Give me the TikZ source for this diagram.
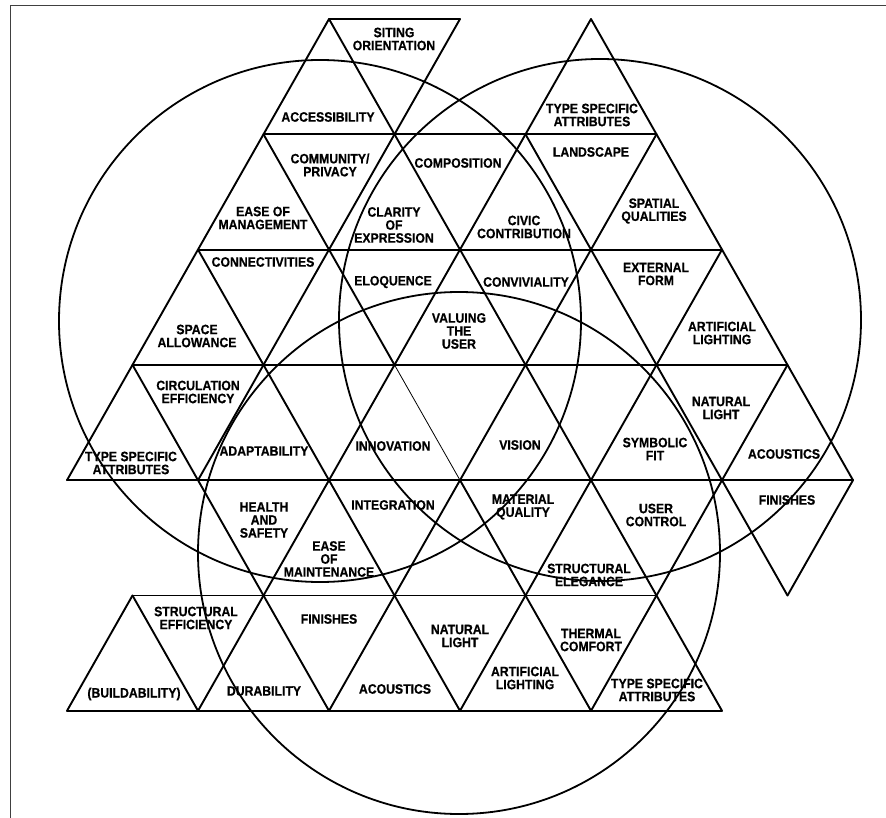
\documentclass[tikz,border=0pt]{standalone}
\usepackage{fontspec}
\setmainfont{Liberation Sans}[FakeStretch=0.9, BoldFeatures={FakeBold=0.6}]
\begin{document}
\begin{tikzpicture}[x=1pt,y=-1pt,
  grid/.style={line width=1.9pt, line cap=round},
  faint/.style={line width=0.8pt, line cap=round},
  ring/.style={line width=1.8pt},
  frame/.style={line width=1pt, draw=black!75},
  lbl/.style={font=\bfseries\fontsize{13.6}{13}\selectfont, align=center, inner sep=0pt}]
\useasboundingbox (0,0) rectangle (886,818);
\draw[frame] (886,6) -- (10,6) -- (10,818);

% lattice points: column i (half sides), row j
\foreach \i in {0,...,12}{
  \foreach \j in {0,...,6}{
    \coordinate (p\i-\j) at ({67+65.5*\i},{19+115.3*\j});
  }
}

% horizontal lines
\foreach \j/\a/\b in {0/4/6,1/3/9,2/2/10,3/1/11,4/0/12,5/1/9,6/0/10}
  \draw[grid] (p\a-\j) -- (p\b-\j);

% rising diagonals
\draw[grid] (p4-0) -- (p0-4);
\draw[grid] (p6-0) -- (p2-4);
\draw[grid] (p1-5) -- (p0-6);
\draw[grid] (p8-0) -- (p2-6);
\draw[grid] (p9-1) -- (p4-6);
\draw[grid] (p10-2) -- (p6-6);
\draw[grid] (p11-3) -- (p8-6);
\draw[grid] (p12-4) -- (p11-5);

% falling diagonals
\draw[grid] (p8-0) -- (p12-4);
\draw[grid] (p7-1) -- (p11-5);
\draw[grid] (p4-0) -- (p10-6);
\draw[grid] (p3-1) -- (p5-3);
\draw[faint] (p5-3) -- (p6-4);
\draw[grid] (p6-4) -- (p8-6);
\draw[grid] (p2-2) -- (p6-6);
\draw[grid] (p1-3) -- (p4-6);
\draw[grid] (p1-5) -- (p2-6);

% the three circles
\coordinate (cA) at (320,321);
\coordinate (cB) at (600,320);
\coordinate (cC) at (459,553);
\draw[ring] (cA) circle[radius=261];
\draw[ring] (cB) circle[radius=261];
\draw[ring] (cC) circle[radius=261];

% labels
\node[lbl] (siting) at (394,39) {SITING\\ORIENTATION};
\node[lbl] (access) at (328,117) {ACCESSIBILITY};
\node[lbl] (tsa1) at (592,115) {TYPE SPECIFIC\\ATTRIBUTES};
\node[lbl] (commun) at (330,165) {COMMUNITY/\\PRIVACY};
\node[lbl] (easemgmt) at (263,218) {EASE OF\\MANAGEMENT};
\node[lbl] (clarity) at (394,225) {CLARITY\\OF\\EXPRESSION};
\node[lbl] (compos) at (458,163) {COMPOSITION};
\node[lbl] (civic) at (524,227) {CIVIC\\CONTRIBUTION};
\node[lbl] (landsc) at (591,152) {LANDSCAPE};
\node[lbl] (spatial) at (654,211) {SPATIAL\\QUALITIES};
\node[lbl] (connect) at (263,262) {CONNECTIVITIES};
\node[lbl] (space) at (197,336) {SPACE\\ALLOWANCE};
\node[lbl] (eloq) at (393,282) {ELOQUENCE};
\node[lbl] (valuing) at (459,331) {VALUING\\THE\\USER};
\node[lbl] (conviv) at (526,282) {CONVIVIALITY};
\node[lbl] (extform) at (656,274) {EXTERNAL\\FORM};
\node[lbl] (artl1) at (722,333) {ARTIFICIAL\\LIGHTING};
\node[lbl] (circ) at (198,392) {CIRCULATION\\EFFICIENCY};
\node[lbl] (tsa2) at (131,463) {TYPE SPECIFIC\\ATTRIBUTES};
\node[lbl] (adapt) at (264,451) {ADAPTABILITY};
\node[lbl] (innov) at (393,446) {INNOVATION};
\node[lbl] (vision) at (520,445) {VISION};
\node[lbl] (symb) at (655,449) {SYMBOLIC\\FIT};
\node[lbl] (natl1) at (721,408) {NATURAL\\LIGHT};
\node[lbl] (acou1) at (784,454) {ACOUSTICS};
\node[lbl] (health) at (264,520) {HEALTH\\AND\\SAFETY};
\node[lbl] (integ) at (393,505) {INTEGRATION};
\node[lbl] (easemt) at (329,559) {EASE\\OF\\MAINTENANCE};
\node[lbl] (matq) at (523,507) {MATERIAL\\QUALITY};
\node[lbl] (userc) at (656,515) {USER\\CONTROL};
\node[lbl] (fin1) at (787,500) {FINISHES};
\node[lbl] (strel) at (589,575) {STRUCTURAL\\ELEGANCE};
\node[lbl] (stref) at (196,618) {STRUCTURAL\\EFFICIENCY};
\node[lbl] (build) at (134,694) {(BUILDABILITY)};
\node[lbl] (durab) at (264,691) {DURABILITY};
\node[lbl] (fin2) at (329,619) {FINISHES};
\node[lbl] (acou2) at (395,689) {ACOUSTICS};
\node[lbl] (natl2) at (460,636) {NATURAL\\LIGHT};
\node[lbl] (artl2) at (525,678) {ARTIFICIAL\\LIGHTING};
\node[lbl] (therm) at (591,640) {THERMAL\\COMFORT};
\node[lbl] (tsa3) at (657,690) {TYPE SPECIFIC\\ATTRIBUTES};
\end{tikzpicture}
\end{document}
